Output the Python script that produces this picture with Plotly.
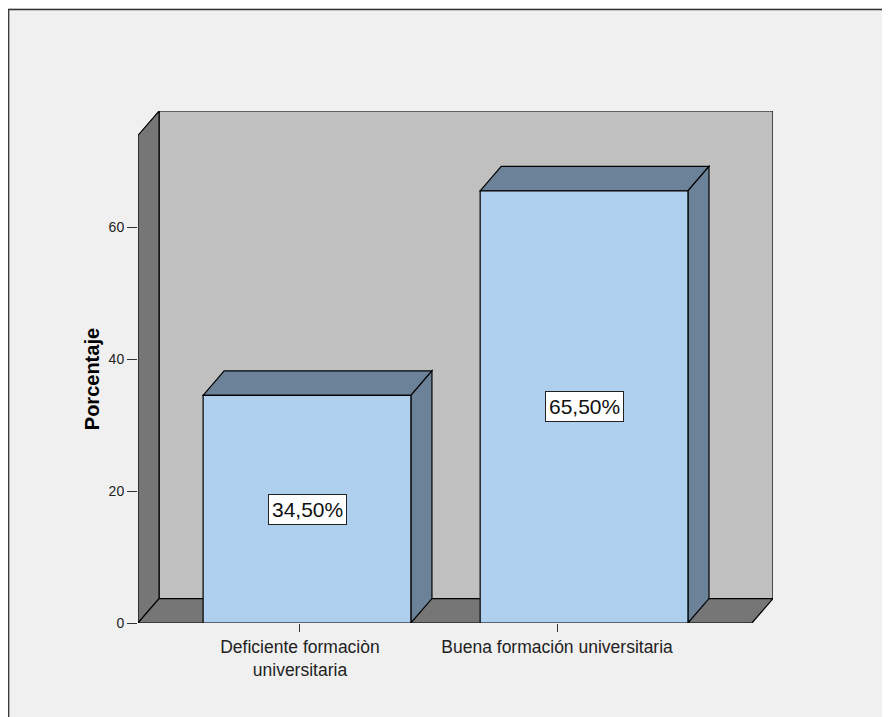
import plotly.graph_objects as go

# ---- data ----
categories = ["Deficiente formaciòn<br>universitaria", "Buena formación universitaria"]
values = [34.5, 65.5]
value_labels = ["34,50%", "65,50%"]
y_tick_vals = [0, 20, 40, 60]
y_title = "Porcentaje"

# ---- styling / geometry ----
FRONT = "#aecfed"
SIDE = "#6b8299"
BACK_WALL = "#c0c0c0"
DARK_WALL = "#767676"
PAPER = "#f0f0f0"
BAR_W = 0.75
DX = 0.076       # 3D depth in x data units
DY = 3.7         # 3D depth in y data units
X_RANGE = [-0.61, 1.682]        # bar axis
X_LABEL_RANGE = [-0.630, 1.840]  # category-label axis (SPSS places labels slightly left)
Y_MAX = 77.6

ML, MR, MT, MB = 130, 125, 103, 102
W, H = 890, 717
PW, PH = W - ML - MR, H - MT - MB

xs = list(range(len(values)))

shapes = []
# back wall
shapes.append(dict(type="rect", xref="x", yref="y", layer="below",
                   x0=X_RANGE[0] + DX, x1=X_RANGE[1], y0=DY, y1=Y_MAX,
                   fillcolor=BACK_WALL, line=dict(color="black", width=1.2)))
# left wall
shapes.append(dict(type="path", xref="x", yref="y", layer="below",
                   path=f"M {X_RANGE[0]},0 L {X_RANGE[0]+DX},{DY} L {X_RANGE[0]+DX},{Y_MAX} "
                        f"L {X_RANGE[0]},{Y_MAX-DY} Z",
                   fillcolor=DARK_WALL, line=dict(color="black", width=1.2)))
# floor
shapes.append(dict(type="path", xref="x", yref="y", layer="below",
                   path=f"M {X_RANGE[0]},0 L {X_RANGE[1]-DX},0 L {X_RANGE[1]},{DY} "
                        f"L {X_RANGE[0]+DX},{DY} Z",
                   fillcolor=DARK_WALL, line=dict(color="black", width=1.2)))
# bar top & side faces
for x, v in zip(xs, values):
    l, r = x - BAR_W / 2, x + BAR_W / 2
    shapes.append(dict(type="path", xref="x", yref="y", layer="below",
                       path=f"M {l},{v} L {l+DX},{v+DY} L {r+DX},{v+DY} L {r},{v} Z",
                       fillcolor=SIDE, line=dict(color="black", width=1.2)))
    shapes.append(dict(type="path", xref="x", yref="y", layer="below",
                       path=f"M {r},0 L {r+DX},{DY} L {r+DX},{v+DY} L {r},{v} Z",
                       fillcolor=SIDE, line=dict(color="black", width=1.2)))
# outer frame (figure edge)
shapes.append(dict(type="rect", xref="paper", yref="paper", layer="below",
                   x0=(0.7 - ML) / PW, x1=(W + 20 - ML) / PW,
                   y0=-(MB + 20) / PH, y1=1 + (MT - 1.5) / PH,
                   fillcolor="rgba(0,0,0,0)", line=dict(color="#333333", width=1.3)))

fig = go.Figure()
fig.add_trace(go.Bar(x=xs, y=values, width=BAR_W,
                     marker=dict(color=FRONT, line=dict(color="black", width=1.2)),
                     hoverinfo="skip", showlegend=False))
# invisible trace to carry the category-label axis
fig.add_trace(go.Scatter(x=xs, y=[None] * len(xs), xaxis="x2", mode="markers",
                         hoverinfo="skip", showlegend=False))

annotations = []
for x, v, t in zip(xs, values, value_labels):
    annotations.append(dict(x=x, y=v / 2, xref="x", yref="y", text=t, showarrow=False,
                            font=dict(family="Liberation Sans, Arial", size=21, color="#111111"),
                            bgcolor="white", bordercolor="#222222", borderwidth=1, borderpad=3))
# y-axis title, centred on the front edge of the left wall (as SPSS does)
annotations.append(dict(x=-46 / PW, y=(Y_MAX - DY) / 2, xref="paper", yref="y",
                        xanchor="center", yanchor="middle", textangle=-90,
                        text="<b>" + y_title + "</b>", showarrow=False,
                        font=dict(size=20, color="black", family="Liberation Sans, Arial")))

fig.update_layout(
    width=W, height=H,
    margin=dict(l=ML, r=MR, t=MT, b=MB),
    paper_bgcolor=PAPER, plot_bgcolor=PAPER,
    shapes=shapes, annotations=annotations,
    font=dict(family="Liberation Sans, Arial", color="#222222"),
    xaxis=dict(range=X_RANGE, showticklabels=False, ticks="",
               showgrid=False, zeroline=False, showline=False),
    xaxis2=dict(range=X_LABEL_RANGE, overlaying="x", side="bottom", anchor="y",
                tickmode="array", tickvals=xs, ticktext=categories,
                showgrid=False, zeroline=False, showline=False,
                ticks="outside", ticklen=8, tickcolor="#333333",
                tickfont=dict(size=17.5, color="#222222")),
    yaxis=dict(range=[0, Y_MAX], tickmode="array", tickvals=y_tick_vals,
               showgrid=False, zeroline=False, showline=False,
               ticks="outside", ticklen=10, tickcolor="#333333",
               tickfont=dict(size=14, color="#222222")),
)

fig.write_html("out.html")
